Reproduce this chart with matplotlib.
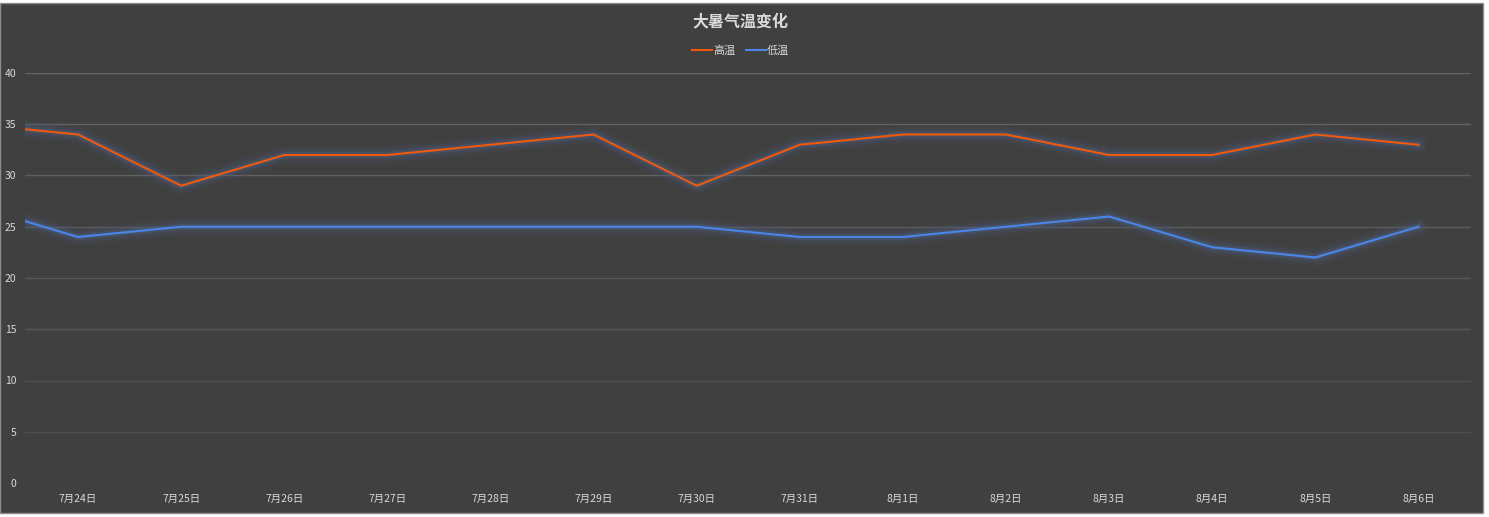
import matplotlib
matplotlib.use("Agg")
import matplotlib.pyplot as plt
import matplotlib.patheffects as pe
from matplotlib.patches import Rectangle

plt.rcParams['font.family'] = ['Noto Sans CJK SC', 'DejaVu Sans']

# data (7月23日 lies just outside the left edge)
dates = ['7月23日', '7月24日', '7月25日', '7月26日', '7月27日', '7月28日', '7月29日', '7月30日',
         '7月31日', '8月1日', '8月2日', '8月3日', '8月4日', '8月5日', '8月6日']
high = [35, 34, 29, 32, 32, 33, 34, 29, 33, 34, 34, 32, 32, 34, 33]
low = [27, 24, 25, 25, 25, 25, 25, 25, 24, 24, 25, 26, 23, 22, 25]
yticks = [0, 5, 10, 15, 20, 25, 30, 35, 40]

BG = '#404040'
TXT = '#d9d9d9'

fig = plt.figure(figsize=(14.89, 5.17), dpi=100)
fig.patch.set_facecolor('white')
# dark chart area, like the Excel chart sitting on the sheet
fig.patches.append(Rectangle((0, 4 / 517), 1483 / 1489, 510 / 517, transform=fig.transFigure,
                             facecolor=BG, edgecolor='#8c8c8c', lw=1, zorder=0))

ax = fig.add_axes([25 / 1489, 34 / 517, 1446 / 1489, 410 / 517])
ax.set_zorder(2)
ax.patch.set_alpha(0)

# gridlines fade a bit towards the bottom, as in the screenshot
for i, t in enumerate(yticks):
    ax.axhline(t, color='#707070', lw=1, alpha=0.25 + 0.07 * i, zorder=1)

x = list(range(len(dates)))
glow = [pe.Stroke(linewidth=12, foreground='#4a5a80', alpha=0.12),
        pe.Stroke(linewidth=8, foreground='#4a5a80', alpha=0.18),
        pe.Stroke(linewidth=4.5, foreground='#50628c', alpha=0.35),
        pe.Normal()]
ax.plot(x, high, color='#f05a0a', lw=1.5, label='高温', path_effects=glow, zorder=3)
ax.plot(x, low, color='#4a86e8', lw=1.5, label='低温', path_effects=glow, zorder=3)

ax.set_xlim(0.485, len(dates) - 0.49)
ax.set_ylim(0, 40)
ax.set_yticks(yticks)
ax.set_xticks(x[1:])
ax.set_xticklabels(dates[1:])
for s in ax.spines.values():
    s.set_visible(False)
ax.tick_params(length=0, colors=TXT, labelsize=7.5)
ax.tick_params(axis='y', pad=6)
ax.tick_params(axis='x', pad=8)

fig.text(0.4975, 1 - 21 / 517, '大暑气温变化', ha='center', va='center',
         color=TXT, fontsize=11.5, fontweight='bold', zorder=3)
leg = fig.legend(loc='center', bbox_to_anchor=(0.4975, 1 - 51 / 517), ncol=2, frameon=False,
                 fontsize=8, labelcolor=TXT, handlelength=1.8, handletextpad=0.1,
                 columnspacing=0.9)
leg.set_zorder(3)
for h in leg.legend_handles:
    h.set_path_effects([])

fig.savefig('out.png', dpi=100, facecolor=fig.get_facecolor())
